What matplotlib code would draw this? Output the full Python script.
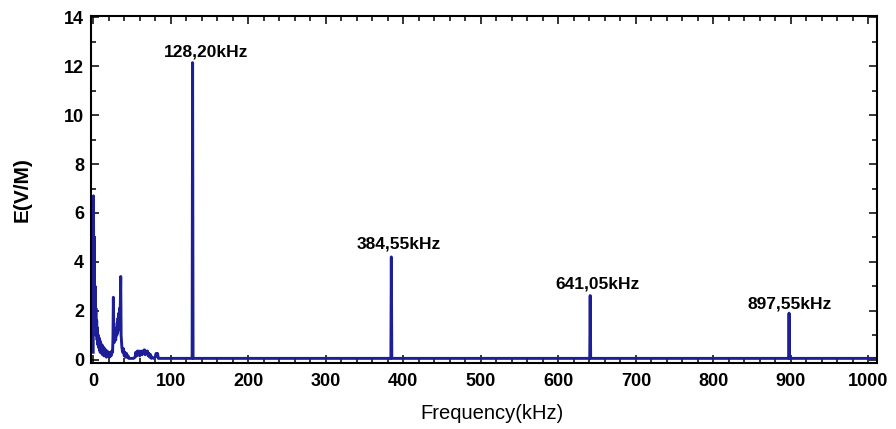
import numpy as np
import matplotlib
matplotlib.use("Agg")
from matplotlib import pyplot as plt
from matplotlib.ticker import MultipleLocator

plt.rcParams["font.family"] = ["Liberation Sans", "DejaVu Sans"]

# Low-frequency noise band (kHz, V/m)
low_freq = [0, 0.3, 0.8, 1.3, 2, 2.5, 3, 3.5, 4, 4.5, 5, 5.5, 6, 6.5, 7, 7.5, 8, 8.5, 9, 9.5,
            10, 10.5, 11, 11.5, 12, 12.5, 13, 13.5, 14, 14.5, 15,
            16, 17, 18, 19, 20, 21, 22, 23, 24,
            25, 25.5, 26, 26.5, 27, 28, 29,
            30, 30.5, 31, 31.5, 32, 32.5, 33, 33.5, 34, 34.5, 35, 35.5,
            36, 37, 38, 39, 40, 41, 42, 43, 44, 45, 46,
            48, 50, 52, 54,
            55, 56, 57, 58, 59, 60, 61, 62, 63, 64, 65, 66, 67, 68, 69, 70, 71, 72, 73, 74, 75, 76,
            78, 80, 81, 82, 83, 84, 86]
low_amp = [0.3, 6.7, 3.2, 5.0, 2.0, 3.0, 1.4, 2.1, 1.0, 1.6, 0.8, 1.3, 0.6, 1.0, 0.5, 0.9, 0.4, 0.8, 0.3, 0.7,
           0.3, 0.6, 0.25, 0.6, 0.2, 0.5, 0.2, 0.5, 0.15, 0.45, 0.2,
           0.4, 0.1, 0.35, 0.15, 0.3, 0.1, 0.3, 0.15, 0.35,
           0.3, 0.9, 2.55, 1.3, 0.7, 1.1, 0.8,
           1.3, 1.0, 1.5, 1.1, 1.7, 1.2, 1.9, 1.4, 2.1, 1.5, 2.3, 3.4,
           1.0, 0.5, 0.3, 0.45, 0.15, 0.3, 0.1, 0.25, 0.1, 0.15, 0.05,
           0.05, 0.05, 0.05, 0.1,
           0.3, 0.15, 0.35, 0.2, 0.35, 0.15, 0.3, 0.35, 0.2, 0.35, 0.25, 0.4, 0.2, 0.35, 0.3, 0.35, 0.15, 0.25, 0.1, 0.2, 0.05, 0.1,
           0.05, 0.1, 0.25, 0.2, 0.25, 0.05, 0.05]

# Harmonic peaks
peak_freq = [128.20, 384.55, 641.05, 897.55]
peak_amp = [12.15, 4.2, 2.62, 1.9]
peak_labels = ["128,20kHz", "384,55kHz", "641,05kHz", "897,55kHz"]
label_dx = [13, 7.5, 7.5, 1]   # label offset from peak, pixels
label_dy = [6, 8, 7, 5]
baseline = 0.05

# assemble spectrum
freq = list(low_freq)
amp = list(low_amp)
for f, a in zip(peak_freq, peak_amp):
    freq += [f - 0.6, f, f + 0.6]
    amp += [baseline, a, baseline]
freq.append(1011)
amp.append(baseline)

fig = plt.figure(figsize=(8.96, 4.29), dpi=100)
ax = fig.add_axes([0.1016, 0.1538, 0.8772, 0.8089])
ax.plot(freq, amp, color="#1e1e98", lw=2.1)

for f, a, lab, dx, dy in zip(peak_freq, peak_amp, peak_labels, label_dx, label_dy):
    ax.annotate(lab, xy=(f, a), xytext=(dx * 0.72, dy * 0.72), textcoords="offset points",
                ha="center", va="baseline", fontsize=12.5, fontweight="bold")

ax.set_xlim(-2.8, 1011)
ax.set_ylim(-0.14, 14.06)
ax.xaxis.set_major_locator(MultipleLocator(100))
ax.xaxis.set_minor_locator(MultipleLocator(20))
ax.yaxis.set_major_locator(MultipleLocator(2))
ax.yaxis.set_minor_locator(MultipleLocator(1))
ax.tick_params(which="both", direction="in", top=True, right=True, width=1.1)
ax.tick_params(which="major", length=6, labelsize=13)
ax.tick_params(axis="x", which="major", pad=7)
ax.tick_params(axis="y", which="major", pad=5)
ax.tick_params(which="minor", length=3.5)
for lbl in ax.get_xticklabels() + ax.get_yticklabels():
    lbl.set_fontweight("bold")
for sp in ax.spines.values():
    sp.set_linewidth(1.5)

ax.set_xlabel("Frequency(kHz)", fontsize=14.5)
ax.xaxis.set_label_coords(0.51, -0.118)
ax.set_ylabel("E(V/M)", fontsize=15, fontweight="bold")
ax.yaxis.set_label_coords(-0.076, 0.5)

plt.savefig("out.png", dpi=100)
